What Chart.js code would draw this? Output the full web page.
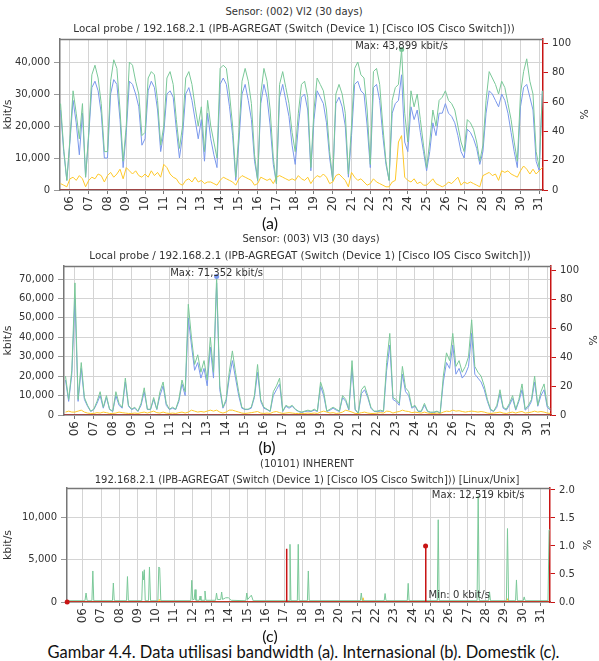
<!DOCTYPE html>
<html>
<head>
<meta charset="utf-8">
<script src="https://cdn.jsdelivr.net/npm/chart.js@4.4.1/dist/chart.umd.min.js"></script>
<style>
  html, body { margin: 0; padding: 0; background: #fff; }
  body { width: 599px; height: 661px; position: relative; overflow: hidden; font-family: "DejaVu Sans", Verdana, sans-serif; }
  .line { position: absolute; width: 600px; text-align: center; white-space: nowrap; font-size: 10px; line-height: 14px; color: #333; z-index: 2; }
  .sub { font-size: 10.3px; }
  .tag { position: absolute; width: 100px; text-align: center; font-family: Lato, "Open Sans", sans-serif; font-size: 16px; line-height: 18px; color: #111; z-index: 2; }
  .caption { position: absolute; width: 607px; left: 0; top: 642px; text-align: center; font-family: Lato, "Open Sans", sans-serif; font-size: 16.5px; line-height: 20px; color: #111; }
  canvas { position: absolute; left: 0; }
</style>
</head>
<body>
<div class="line" style="left:-6px;top:5px">Sensor: (002) Vl2 (30 days)</div>
<div class="line sub" style="left:-6px;top:21px">Local probe / 192.168.2.1 (IPB-AGREGAT (Switch (Device 1) [Cisco IOS Cisco Switch]))</div>
<canvas id="chartA" width="599" height="200" style="top:24px"></canvas>
<div class="tag" style="left:220px;top:214px">(a)</div>

<div class="line" style="left:11px;top:232px">Sensor: (003) Vl3 (30 days)</div>
<div class="line sub" style="left:10px;top:248px">Local probe / 192.168.2.1 (IPB-AGREGAT (Switch (Device 1) [Cisco IOS Cisco Switch]))</div>
<canvas id="chartB" width="599" height="200" style="top:250px"></canvas>
<div class="tag" style="left:217px;top:438px">(b)</div>

<div class="line" style="left:7px;top:457px">(10101) INHERENT</div>
<div class="line" style="left:7px;top:473px">192.168.2.1 (IPB-AGREGAT (Switch (Device 1) [Cisco IOS Cisco Switch])) [Linux/Unix]</div>
<canvas id="chartC" width="599" height="160" style="top:470px"></canvas>
<div class="tag" style="left:220px;top:627px">(c)</div>

<div class="caption">Gambar 4.4. Data utilisasi bandwidth (a). Internasional (b). Domestik (c).</div>

<script>
// sampling of the 30-day graphs (a) and (b): first sample at day 5.5, 6 samples per day
const gridStart = 5.5;
const perDay = 6;

// axis tick values
const aKbitTicks = [0, 10000, 20000, 30000, 40000];
const bKbitTicks = [0, 10000, 20000, 30000, 40000, 50000, 60000, 70000];
const cKbitTicks = [0, 5000, 10000];
const pctTicks = [0, 20, 40, 60, 80, 100];
const cPctTicks = [0, 0.5, 1.0, 1.5, 2.0];

// (a) Vl2 - kbit/s
const aTotal = [
  27000, 13000, 3000,
  16000, 31000, 24000, 16000, 27000, 4000,   // 06
  18000, 36000, 39000, 35000, 27000, 12000,  // 07
  12000, 34000, 40700, 38000, 25000, 9000,   // 08
  20000, 40000, 39000, 34000, 30000, 17000,  // 09
  18000, 35000, 37000, 36000, 28000, 14000,  // 10
  20000, 35000, 37000, 33000, 22000, 13000,  // 11
  20000, 35000, 37000, 33000, 26000, 20000,  // 12
  26000, 12000, 28000, 20000, 15000, 10000,  // 13
  38000, 39000, 38000, 30000, 20000, 4000,   // 14
  18000, 34000, 38000, 34000, 27000, 11000,  // 15
  3000, 30000, 38000, 34000, 25000, 10000,   // 16
  2000, 33000, 37000, 32000, 27000, 18000,   // 17
  12000, 24000, 33000, 34000, 29000, 7000,   // 18
  25000, 35000, 33000, 31000, 25000, 12000,  // 19
  3000, 30000, 33000, 30000, 24000, 5000,    // 20
  20000, 38000, 40000, 36000, 35000, 25000,  // 21
  8000, 37000, 38000, 33000, 20000, 9000,    // 22
  3000, 28000, 32000, 33000, 43899, 24000,   // 23
  15000, 31000, 26000, 30000, 22000, 14000,  // 24
  7000, 15000, 25000, 20000, 28000, 29000,   // 25
  31000, 28000, 27000, 25000, 20000, 15000,  // 26
  12000, 22000, 21000, 19000, 15000, 9000,   // 27
  14000, 28000, 37000, 35000, 33000, 30000,  // 28
  34000, 32000, 27000, 22000, 15000, 9000,   // 29
  30000, 37000, 41000, 34000, 30000, 12000,  // 30
  7000, 31000                                // 31
];
const aIn = [
  25000, 12000, 3000,
  15000, 28000, 21000, 11000, 24000, 4000,
  17000, 32000, 34000, 31000, 24000, 10000,
  10000, 30000, 34500, 33000, 22000, 7000,
  18000, 34000, 33000, 30000, 26000, 14000,
  16000, 31000, 34000, 32000, 25000, 12000,
  18000, 30000, 31000, 29000, 19000, 10000,
  17000, 30000, 32000, 28000, 22000, 16000,
  22000, 9000, 24000, 16000, 11000, 7000,
  33000, 35000, 33000, 26000, 17000, 3000,
  15000, 30000, 33000, 28000, 22000, 9000,
  3000, 27000, 33000, 29000, 20000, 8000,
  2000, 29000, 33000, 28000, 23000, 14000,
  8000, 20000, 29000, 30000, 25000, 6000,
  22000, 31000, 29000, 27000, 21000, 10000,
  3000, 27000, 29000, 26000, 20000, 4000,
  17000, 33000, 34000, 31000, 30000, 20000,
  7000, 32000, 33000, 28000, 17000, 8000,
  3000, 24000, 27000, 28000, 36000, 15000,
  12000, 26000, 22000, 25000, 18000, 12000,
  6000, 12000, 21000, 17000, 24000, 24000,
  27000, 24000, 23000, 21000, 17000, 12000,
  10000, 19000, 18000, 16000, 13000, 8000,
  12000, 24000, 31000, 30000, 28000, 26000,
  30000, 28000, 24000, 18000, 12000, 7000,
  26000, 32000, 33000, 29000, 25000, 9000,
  6000, 31000
];
const aOut = [
  2000, 1500, 1000,
  3500, 4000, 3000, 4500, 3500, 1000,
  3000, 4000, 3500, 5000, 4500, 2500,
  4500, 5500, 4000, 5000, 6500, 3500,
  7000, 6000, 5000, 6000, 4500, 4000,
  5000, 4000, 6000, 4500, 5500, 4000,
  8000, 7000, 5000, 4000, 3500, 2000,
  1500, 3000, 3500, 2500, 4000, 2500,
  3000, 2000, 2500, 2500, 2000, 1500,
  3000, 4000, 3500, 3000, 2500, 1500,
  3500, 4500, 4000, 3500, 3000, 1500,
  2000, 4000, 3500, 3000, 3500, 2000,
  4000, 4500, 4000, 3500, 3000, 3500,
  3000, 4500, 3500, 3000, 4000, 2000,
  3500, 4500, 4000, 5000, 4000, 2000,
  2500, 4500, 5000, 4000, 3000, 1000,
  5500, 4000, 3000, 3500, 2500, 1500,
  2000, 3500, 2500, 2000, 1500, 1000,
  1000, 2500, 3000, 15000, 17000, 4000,
  3000, 2500, 3500, 2000, 2500, 1500,
  1500, 2500, 3500, 2000, 1500, 1000,
  1500, 2500, 2000, 3000, 4000, 1500,
  2500, 2000, 2500, 2000, 1500, 1000,
  4500, 5000, 5500, 4500, 5000, 3000,
  6000, 5500, 6000, 5000, 4500, 4000,
  6000, 7500, 6500, 5000, 6500, 5000,
  6000, 7000
];

// (b) Vl3 - kbit/s
const bTotal = [
  20000, 8000, 23000,
  68000, 8000, 27000, 9000, 5000, 2000,      // 06
  3000, 7000, 12000, 4000, 10000, 3000,      // 07
  2000, 12000, 6000, 4000, 19000, 5000,      // 08
  3000, 4000, 2000, 6000, 14000, 3000,       // 09
  3000, 9000, 3000, 12000, 17000, 6000,      // 10
  3000, 4000, 3000, 8000, 18000, 12000,      // 11
  57000, 40000, 26000, 31000, 22000, 28000,  // 12
  18000, 40000, 22000, 71352, 15000, 4000,   // 13
  8000, 22000, 33000, 22000, 12000, 4000,    // 14
  3000, 3000, 4000, 10000, 26000, 8000,      // 15
  4000, 3000, 2000, 12000, 15000, 19000,     // 16
  2000, 5000, 4000, 5000, 3000, 2000,        // 17
  1500, 2000, 2500, 2000, 3000, 2000,        // 18
  17000, 12000, 2000, 3000, 4000, 3000,      // 19
  2000, 10000, 8000, 3000, 28000, 3000,      // 20
  1000, 13000, 15000, 10000, 4000, 2000,     // 21
  2000, 2500, 2000, 27000, 42000, 9000,      // 22
  8000, 6000, 25000, 14000, 12000, 4000,     // 23
  5000, 2000, 2000, 6000, 2000, 1500,        // 24
  1500, 2000, 1000, 20000, 32000, 28000,     // 25
  42000, 25000, 28000, 22000, 25000, 30000,  // 26
  49000, 25000, 22000, 20000, 15000, 8000,   // 27
  3000, 2000, 5000, 13000, 4000, 3000,       // 28
  6000, 10000, 3000, 8000, 16000, 3000,      // 29
  5000, 8000, 20000, 5000, 12000, 16000,     // 30
  5000, 3000                                 // 31
];
const bIn = [
  18000, 7000, 21000,
  60000, 7000, 24000, 8000, 4500, 1800,
  2800, 6000, 10000, 3500, 9000, 2800,
  1800, 10000, 5000, 3500, 17000, 4500,
  2800, 3500, 1800, 5000, 12000, 2800,
  2800, 8000, 2800, 10000, 15000, 5000,
  2800, 3500, 2800, 7000, 16000, 10000,
  50000, 36000, 23000, 27000, 19000, 24000,
  15000, 35000, 19000, 68000, 13000, 3500,
  7000, 19000, 28000, 19000, 10000, 3500,
  2800, 2800, 3500, 9000, 22000, 7000,
  3500, 2800, 1800, 10000, 13000, 16000,
  1800, 4500, 3500, 4500, 2800, 1800,
  1200, 1800, 2000, 1800, 2500, 1800,
  15000, 10000, 1800, 2500, 3500, 2500,
  1800, 9000, 7000, 2500, 24000, 2500,
  900, 11000, 13000, 9000, 3500, 1800,
  1800, 2000, 1800, 23000, 36000, 8000,
  7000, 5000, 21000, 12000, 10000, 3500,
  4500, 1800, 1800, 5000, 1800, 1200,
  1200, 1800, 900, 17000, 27000, 24000,
  36000, 21000, 24000, 19000, 21000, 25000,
  42000, 21000, 19000, 17000, 13000, 7000,
  2500, 1800, 4000, 11000, 3500, 2500,
  5000, 8500, 2500, 7000, 13000, 2500,
  4000, 7000, 17000, 4500, 10000, 13000,
  4000, 2500
];
const bOut = [
  1500, 2000, 1500,
  1500, 2000, 2500, 1500, 1000, 800,
  800, 1200, 1000, 1500, 1200, 800,
  800, 1000, 1500, 1200, 1000, 800,
  800, 1000, 800, 1200, 1500, 1000,
  1500, 2000, 1200, 1000, 1500, 1000,
  800, 1000, 800, 1200, 1500, 1000,
  1500, 2500, 2000, 1500, 1800, 1500,
  2000, 2500, 2000, 2500, 1500, 1000,
  1500, 2500, 2500, 2000, 1500, 1000,
  800, 1000, 1200, 1500, 1800, 1000,
  800, 1000, 800, 1500, 1800, 1200,
  800, 1000, 1200, 1000, 800, 800,
  800, 800, 1000, 800, 1000, 800,
  1500, 2000, 1500, 1000, 1200, 800,
  1000, 1500, 2500, 2000, 1500, 800,
  800, 1200, 1500, 1000, 800, 800,
  1000, 1200, 1000, 2000, 1800, 1000,
  1500, 1800, 2500, 2000, 1800, 1200,
  1500, 1200, 1000, 1500, 1000, 800,
  800, 1000, 800, 1500, 2000, 1800,
  2500, 2000, 2200, 1800, 1500, 1800,
  2000, 1800, 1500, 1800, 1500, 1000,
  800, 1000, 1200, 1500, 1000, 800,
  1200, 1500, 1000, 1500, 1800, 1000,
  1200, 1500, 2000, 1500, 1800, 1500,
  1000, 800
];

// (c) INHERENT - irregular samples (day, kbit/s)
const cTimes = [5.15, 6.12, 6.18, 6.24, 6.5, 6.55, 6.6, 7.62, 7.67, 7.72, 8.39, 8.44, 8.49,
  9.22, 9.27, 9.31, 9.36, 9.41, 9.59, 9.64, 9.7, 10.1, 10.15, 10.2, 10.26,
  11.9, 11.95, 12.0, 12.08, 12.13, 12.18, 12.36, 12.4, 12.45, 12.62, 12.67, 12.72,
  13.25, 13.3, 13.35, 13.53, 13.58, 13.63, 13.8, 13.95, 14.1, 14.9, 14.95, 15.0, 15.2, 15.3,
  17.26, 17.31, 17.36, 17.71, 17.76, 17.81, 18.26, 18.31, 18.36,
  21.15, 21.2, 21.25, 22.45, 22.5, 22.55, 23.71, 23.76, 23.81, 25.35, 25.4, 25.45,
  27.52, 27.58, 27.64, 28.15, 28.2, 28.25, 29.12, 29.18, 29.24, 29.62, 29.67, 29.72,
  30.04, 30.09, 30.15, 31.39, 31.45, 31.5];
const cTotal = [150, 150, 1060, 150, 150, 3660, 150, 150, 2240, 150, 150, 3000, 150,
  150, 3600, 2600, 3800, 150, 150, 4130, 150, 150, 4130, 4000, 150,
  150, 2560, 300, 300, 1460, 200, 200, 700, 200, 200, 1300, 200,
  200, 1060, 300, 300, 1180, 300, 500, 500, 200, 150, 1060, 300, 800, 150,
  150, 6800, 150, 150, 6800, 150, 150, 3660, 150,
  150, 1060, 150, 150, 1000, 150, 150, 2200, 150, 150, 9700, 150,
  150, 12519, 150, 150, 1200, 150, 150, 8660, 150, 150, 2600, 150,
  150, 600, 150, 150, 8500, 8500];
const cOutTimes = [5.15, 10.12, 10.18, 10.24, 21.24, 21.3, 21.36, 29.14, 29.2, 29.26, 31.5];
const cOut = [0, 0, 300, 0, 0, 500, 0, 0, 400, 0, 0];

// downtime in %
const aDownTimes = [5.47, 31.2];
const aDown = [0, 0];
const bDownTimes = [5.42, 31.2];
const bDown = [0, 0];
const cDownTimes = [5.15, 17.1, 17.12, 17.14, 24.69, 24.71, 24.73, 31.5];
const cDown = [0, 0, 0.95, 0, 0, 1.0, 0, 0];

const GREEN = 'rgb(122,200,152)';
const BLUE = 'rgb(122,152,236)';
const YELLOW = 'rgb(255,200,40)';
const RED = 'rgb(200,20,20)';

Chart.defaults.font.family = '"DejaVu Sans", Verdana, sans-serif';
Chart.defaults.font.size = 10;
Chart.defaults.color = '#333';

const grid = (start, vals) => vals.map((v, i) => ({ x: start + i / perDay, y: v }));
const pairs = (xs, ys) => xs.map((x, i) => ({ x: x, y: ys[i] }));
const dayLabel = v => (v < 10 ? '0' : '') + v;
const fixTicks = list => s => { s.ticks = list.map(v => ({ value: v })); };

const framePlugin = {
  id: 'frame',
  afterDatasetsDraw(chart, args, opts) {
    const ctx = chart.ctx, a = chart.chartArea;
    ctx.save();
    ctx.strokeStyle = '#777';
    ctx.lineWidth = 1.5;
    ctx.beginPath();
    ctx.moveTo(a.left, a.top + 0.5);
    ctx.lineTo(a.right, a.top + 0.5);
    ctx.stroke();
    ctx.font = '10px "DejaVu Sans", Verdana, sans-serif';
    ctx.textBaseline = 'middle';
    (opts.notes || []).forEach(n => {
      const px = chart.scales.x.getPixelForValue(n.x);
      const py = chart.scales[n.axis || 'y'].getPixelForValue(n.y);
      if (n.dot) {
        ctx.fillStyle = n.dot;
        ctx.beginPath();
        ctx.arc(px, py, 2.5, 0, Math.PI * 2);
        ctx.fill();
      }
      if (n.text) {
        ctx.fillStyle = '#333';
        ctx.textAlign = n.align || 'center';
        const tx = n.align === 'left' ? px + 3 : px;
        const ty = Math.max(py - (n.lift || 5), a.top + 7);
        ctx.fillText(n.text, tx, ty);
      }
    });
    ctx.restore();
  }
};

function makeChart(id, g, datasets, notes) {
  return new Chart(document.getElementById(id), {
    type: 'line',
    data: { datasets: datasets },
    options: {
      responsive: false,
      animation: false,
      layout: { padding: { top: g.padTop, left: 0, right: 0, bottom: 0 } },
      elements: { point: { radius: 0 }, line: { borderWidth: 1, tension: 0 } },
      plugins: { legend: { display: false }, tooltip: { enabled: false }, frame: { notes: notes } },
      scales: {
        x: {
          type: 'linear', min: g.xMin, max: g.xMax,
          afterFit: s => { s.height = g.xHeight; },
          grid: { color: '#d4d4d4', tickColor: '#777', tickLength: 4 },
          border: { color: '#777', width: 1.5 },
          ticks: { stepSize: 1, includeBounds: false, autoSkip: false, minRotation: 90, maxRotation: 90,
                   padding: 2, font: { size: 12 }, callback: dayLabel }
        },
        y: {
          position: 'left', min: 0, max: g.yMax,
          afterBuildTicks: fixTicks(g.yTicks),
          afterFit: s => { s.width = g.leftW; },
          grid: { color: '#d4d4d4', tickColor: '#999', tickLength: 6 },
          border: { color: '#777', width: 1.5 },
          ticks: { padding: 4, callback: v => v.toLocaleString('en-US') },
          title: { display: true, text: 'kbit/s', padding: { top: 2, bottom: 0 }, font: { size: 11 } }
        },
        y1: {
          position: 'right', min: 0, max: g.rMax,
          afterBuildTicks: fixTicks(g.rTicks),
          afterFit: s => { s.width = g.rightW; },
          grid: { drawOnChartArea: false, color: RED, tickLength: 5 },
          border: { color: RED, width: 1.5 },
          ticks: { padding: 4, callback: g.rFmt },
          title: { display: true, text: '%', padding: { top: g.pctPad, bottom: 0 }, font: { size: 11 } }
        }
      }
    },
    plugins: [framePlugin]
  });
}

makeChart('chartA',
  { padTop: 15, xHeight: 34, leftW: 60, rightW: 56, xMin: 5.47, xMax: 31.2, yMax: 47190, yTicks: aKbitTicks,
    rMax: 103.1, rTicks: pctTicks, rFmt: v => v, pctPad: 10 },
  [
    { data: pairs(aDownTimes, aDown), yAxisID: 'y1', borderColor: RED, order: 0 },
    { data: grid(gridStart, aTotal), yAxisID: 'y', borderColor: GREEN, order: 1 },
    { data: grid(gridStart, aOut), yAxisID: 'y', borderColor: YELLOW, order: 2 },
    { data: grid(gridStart, aIn), yAxisID: 'y', borderColor: BLUE, order: 3 }
  ],
  [{ x: 23.67, y: 43899, text: 'Max: 43,899 kbit/s', dot: GREEN }]
);

makeChart('chartB',
  { padTop: 16, xHeight: 35, leftW: 64, rightW: 48, xMin: 5.42, xMax: 31.2, yMax: 76700, yTicks: bKbitTicks,
    rMax: 102.8, rTicks: pctTicks, rFmt: v => v, pctPad: 1 },
  [
    { data: pairs(bDownTimes, bDown), yAxisID: 'y1', borderColor: RED, order: 0 },
    { data: grid(gridStart, bTotal), yAxisID: 'y', borderColor: GREEN, order: 1 },
    { data: grid(gridStart, bOut), yAxisID: 'y', borderColor: YELLOW, order: 2 },
    { data: grid(gridStart, bIn), yAxisID: 'y', borderColor: BLUE, order: 3 }
  ],
  [{ x: 13.5, y: 71352, text: 'Max: 71,352 kbit/s', dot: BLUE }]
);

makeChart('chartC',
  { padTop: 18, xHeight: 28, leftW: 67, rightW: 49, xMin: 5.14, xMax: 31.5, yMax: 13440, yTicks: cKbitTicks,
    rMax: 2.035, rTicks: cPctTicks, rFmt: v => v.toFixed(1), pctPad: 7 },
  [
    { data: pairs(cDownTimes, cDown), yAxisID: 'y1', borderColor: RED, borderWidth: 1.5, order: 0 },
    { data: pairs(cTimes, cTotal), yAxisID: 'y', borderColor: GREEN, order: 1 },
    { data: pairs(cOutTimes, cOut), yAxisID: 'y', borderColor: YELLOW, order: 2 }
  ],
  [
    { x: 27.58, y: 12519, text: 'Max: 12,519 kbit/s' },
    { x: 24.71, y: 1.0, axis: 'y1', dot: RED },
    { x: 5.15, y: 0, axis: 'y1', dot: RED },
    { x: 24.71, y: 0, text: 'Min: 0 kbit/s', align: 'left', lift: 7 }
  ]
);
</script>
</body>
</html>
